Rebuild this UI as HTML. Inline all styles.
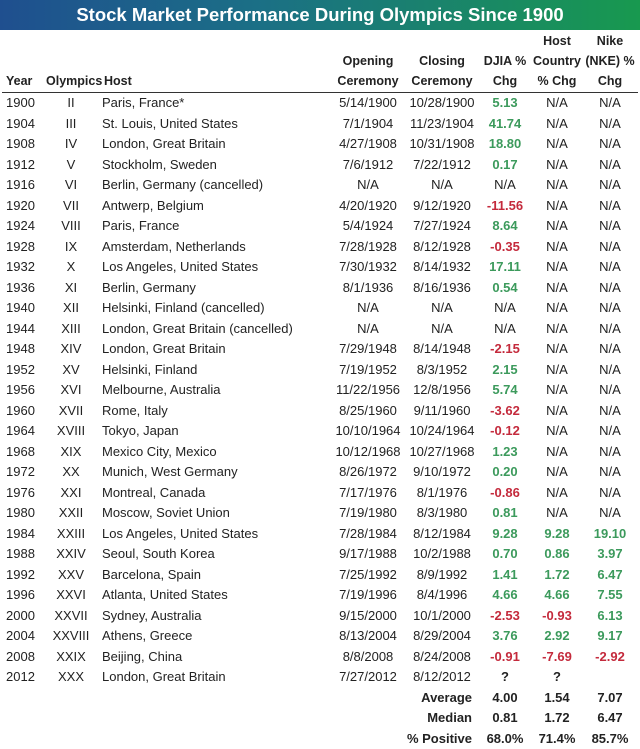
<!DOCTYPE html>
<html><head><meta charset="utf-8"><style>
body{margin:0;width:640px;height:749px;background:#fff;font-family:"Liberation Sans",sans-serif;color:#222;overflow:hidden}
#title{height:30px;background:linear-gradient(90deg,#1f4f8f 0%,#1b6f86 40%,#18994f 100%);color:#fff;font-weight:bold;font-size:18.5px;line-height:30px;text-align:center}
table{border-collapse:collapse;table-layout:fixed;width:636px;font-size:13px;margin-left:2px}
td,th{padding:0;white-space:nowrap;height:20.5px;line-height:20.5px;text-align:center}
thead th{font-weight:bold;font-size:12.5px;vertical-align:bottom;line-height:20px;height:61px;border-bottom:1.5px solid #333;padding-bottom:1px}
.l{text-align:left;padding-left:4px}
.h{text-align:left;padding-left:6px}
thead th.h{padding-left:8px}
.g{color:#3c9a5c;font-weight:bold}.r{color:#c42a3c;font-weight:bold}
.b{font-weight:bold}.rt{text-align:right;padding-right:6px;font-weight:bold}
</style></head><body>
<div id="title">Stock Market Performance During Olympics Since 1900</div>
<table>
<colgroup><col style="width:44px"><col style="width:50px"><col style="width:234px"><col style="width:76px"><col style="width:72px"><col style="width:54px"><col style="width:50px"><col style="width:56px"></colgroup>
<thead><tr>
<th class="l">Year</th><th>Olympics</th><th class="h">Host</th><th>Opening<br>Ceremony</th><th>Closing<br>Ceremony</th><th>DJIA %<br>Chg</th><th>Host<br>Country<br>% Chg</th><th>Nike<br>(NKE) %<br>Chg</th></tr></thead>
<tbody>
<tr><td class="l">1900</td><td>II</td><td class="h">Paris, France*</td><td>5/14/1900</td><td>10/28/1900</td><td class="g">5.13</td><td>N/A</td><td>N/A</td></tr>
<tr><td class="l">1904</td><td>III</td><td class="h">St. Louis, United States</td><td>7/1/1904</td><td>11/23/1904</td><td class="g">41.74</td><td>N/A</td><td>N/A</td></tr>
<tr><td class="l">1908</td><td>IV</td><td class="h">London, Great Britain</td><td>4/27/1908</td><td>10/31/1908</td><td class="g">18.80</td><td>N/A</td><td>N/A</td></tr>
<tr><td class="l">1912</td><td>V</td><td class="h">Stockholm, Sweden</td><td>7/6/1912</td><td>7/22/1912</td><td class="g">0.17</td><td>N/A</td><td>N/A</td></tr>
<tr><td class="l">1916</td><td>VI</td><td class="h">Berlin, Germany (cancelled)</td><td>N/A</td><td>N/A</td><td>N/A</td><td>N/A</td><td>N/A</td></tr>
<tr><td class="l">1920</td><td>VII</td><td class="h">Antwerp, Belgium</td><td>4/20/1920</td><td>9/12/1920</td><td class="r">-11.56</td><td>N/A</td><td>N/A</td></tr>
<tr><td class="l">1924</td><td>VIII</td><td class="h">Paris, France</td><td>5/4/1924</td><td>7/27/1924</td><td class="g">8.64</td><td>N/A</td><td>N/A</td></tr>
<tr><td class="l">1928</td><td>IX</td><td class="h">Amsterdam, Netherlands</td><td>7/28/1928</td><td>8/12/1928</td><td class="r">-0.35</td><td>N/A</td><td>N/A</td></tr>
<tr><td class="l">1932</td><td>X</td><td class="h">Los Angeles, United States</td><td>7/30/1932</td><td>8/14/1932</td><td class="g">17.11</td><td>N/A</td><td>N/A</td></tr>
<tr><td class="l">1936</td><td>XI</td><td class="h">Berlin, Germany</td><td>8/1/1936</td><td>8/16/1936</td><td class="g">0.54</td><td>N/A</td><td>N/A</td></tr>
<tr><td class="l">1940</td><td>XII</td><td class="h">Helsinki, Finland (cancelled)</td><td>N/A</td><td>N/A</td><td>N/A</td><td>N/A</td><td>N/A</td></tr>
<tr><td class="l">1944</td><td>XIII</td><td class="h">London, Great Britain (cancelled)</td><td>N/A</td><td>N/A</td><td>N/A</td><td>N/A</td><td>N/A</td></tr>
<tr><td class="l">1948</td><td>XIV</td><td class="h">London, Great Britain</td><td>7/29/1948</td><td>8/14/1948</td><td class="r">-2.15</td><td>N/A</td><td>N/A</td></tr>
<tr><td class="l">1952</td><td>XV</td><td class="h">Helsinki, Finland</td><td>7/19/1952</td><td>8/3/1952</td><td class="g">2.15</td><td>N/A</td><td>N/A</td></tr>
<tr><td class="l">1956</td><td>XVI</td><td class="h">Melbourne, Australia</td><td>11/22/1956</td><td>12/8/1956</td><td class="g">5.74</td><td>N/A</td><td>N/A</td></tr>
<tr><td class="l">1960</td><td>XVII</td><td class="h">Rome, Italy</td><td>8/25/1960</td><td>9/11/1960</td><td class="r">-3.62</td><td>N/A</td><td>N/A</td></tr>
<tr><td class="l">1964</td><td>XVIII</td><td class="h">Tokyo, Japan</td><td>10/10/1964</td><td>10/24/1964</td><td class="r">-0.12</td><td>N/A</td><td>N/A</td></tr>
<tr><td class="l">1968</td><td>XIX</td><td class="h">Mexico City, Mexico</td><td>10/12/1968</td><td>10/27/1968</td><td class="g">1.23</td><td>N/A</td><td>N/A</td></tr>
<tr><td class="l">1972</td><td>XX</td><td class="h">Munich, West Germany</td><td>8/26/1972</td><td>9/10/1972</td><td class="g">0.20</td><td>N/A</td><td>N/A</td></tr>
<tr><td class="l">1976</td><td>XXI</td><td class="h">Montreal, Canada</td><td>7/17/1976</td><td>8/1/1976</td><td class="r">-0.86</td><td>N/A</td><td>N/A</td></tr>
<tr><td class="l">1980</td><td>XXII</td><td class="h">Moscow, Soviet Union</td><td>7/19/1980</td><td>8/3/1980</td><td class="g">0.81</td><td>N/A</td><td>N/A</td></tr>
<tr><td class="l">1984</td><td>XXIII</td><td class="h">Los Angeles, United States</td><td>7/28/1984</td><td>8/12/1984</td><td class="g">9.28</td><td class="g">9.28</td><td class="g">19.10</td></tr>
<tr><td class="l">1988</td><td>XXIV</td><td class="h">Seoul, South Korea</td><td>9/17/1988</td><td>10/2/1988</td><td class="g">0.70</td><td class="g">0.86</td><td class="g">3.97</td></tr>
<tr><td class="l">1992</td><td>XXV</td><td class="h">Barcelona, Spain</td><td>7/25/1992</td><td>8/9/1992</td><td class="g">1.41</td><td class="g">1.72</td><td class="g">6.47</td></tr>
<tr><td class="l">1996</td><td>XXVI</td><td class="h">Atlanta, United States</td><td>7/19/1996</td><td>8/4/1996</td><td class="g">4.66</td><td class="g">4.66</td><td class="g">7.55</td></tr>
<tr><td class="l">2000</td><td>XXVII</td><td class="h">Sydney, Australia</td><td>9/15/2000</td><td>10/1/2000</td><td class="r">-2.53</td><td class="r">-0.93</td><td class="g">6.13</td></tr>
<tr><td class="l">2004</td><td>XXVIII</td><td class="h">Athens, Greece</td><td>8/13/2004</td><td>8/29/2004</td><td class="g">3.76</td><td class="g">2.92</td><td class="g">9.17</td></tr>
<tr><td class="l">2008</td><td>XXIX</td><td class="h">Beijing, China</td><td>8/8/2008</td><td>8/24/2008</td><td class="r">-0.91</td><td class="r">-7.69</td><td class="r">-2.92</td></tr>
<tr><td class="l">2012</td><td>XXX</td><td class="h">London, Great Britain</td><td>7/27/2012</td><td>8/12/2012</td><td class="b">?</td><td class="b">?</td><td></td></tr>
<tr><td></td><td></td><td></td><td colspan="2" class="rt">Average</td><td class="b">4.00</td><td class="b">1.54</td><td class="b">7.07</td></tr>
<tr><td></td><td></td><td></td><td colspan="2" class="rt">Median</td><td class="b">0.81</td><td class="b">1.72</td><td class="b">6.47</td></tr>
<tr><td></td><td></td><td></td><td colspan="2" class="rt">% Positive</td><td class="b">68.0%</td><td class="b">71.4%</td><td class="b">85.7%</td></tr>
</tbody></table>
</body></html>
